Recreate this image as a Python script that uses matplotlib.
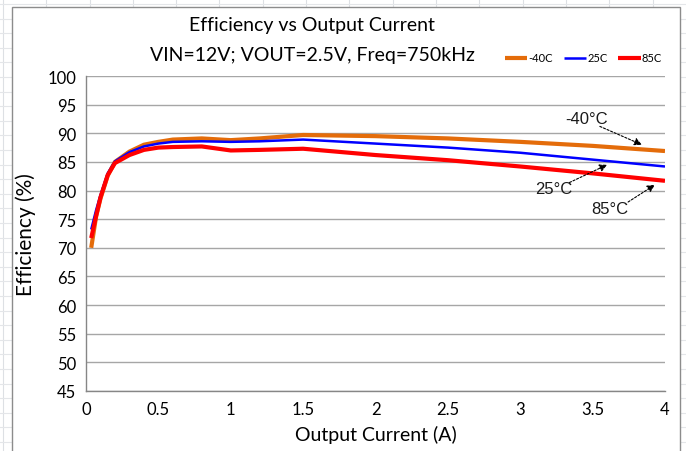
import numpy as np
import matplotlib
matplotlib.use("Agg")
from matplotlib import pyplot as plt
from matplotlib.patches import Rectangle
from matplotlib.lines import Line2D

# output current (A)
current = [0.036, 0.07, 0.1, 0.15, 0.2, 0.3, 0.4, 0.5, 0.6, 0.8, 1.0, 1.2, 1.5, 2.0, 2.5, 3.0, 3.5, 4.0]
# efficiency (%) per temperature
eff_m40 = [70.0, 75.5, 78.6, 82.6, 85.0, 86.8, 88.0, 88.5, 88.9, 89.1, 88.8, 89.1, 89.7, 89.5, 89.1, 88.5, 87.8, 86.9]
eff_25 = [73.2, 76.6, 79.2, 83.0, 85.1, 86.7, 87.7, 88.2, 88.5, 88.6, 88.5, 88.6, 88.9, 88.2, 87.5, 86.6, 85.4, 84.2]
eff_85 = [71.7, 75.6, 78.8, 82.7, 84.8, 86.2, 87.1, 87.5, 87.6, 87.7, 87.0, 87.1, 87.3, 86.2, 85.3, 84.2, 83.0, 81.7]

series_names = ["-40C", "25C", "85C"]
series_colors = ["#E46C0A", "#0000FF", "#FF0000"]
series_widths = [3.0, 1.8, 3.0]

annot_text = ["-40°C", "25°C", "85°C"]
annot_text_pos = [(3.46, 92.6), (3.23, 80.3), (3.62, 76.8)]
annot_tail = [(3.55, 91.2), (3.34, 81.4), (3.745, 78.0)]
annot_tip = [(3.84, 88.0), (3.60, 84.5), (3.93, 81.0)]

W, H = 686, 452
fig = plt.figure(figsize=(W / 100, H / 100), dpi=100)
fig.patch.set_facecolor("white")

# faint spreadsheet grid behind the chart object
for gx in np.arange(3, W, 43.3):
    fig.add_artist(Line2D([gx / W, gx / W], [0, 1], color="#dde0e4", lw=0.8, zorder=-3))
for gy in np.arange(5, H, 14.6):
    fig.add_artist(Line2D([0, 1], [1 - gy / H, 1 - gy / H], color="#e4e6e9", lw=0.8, zorder=-3))
fig.add_artist(Rectangle((12 / W, -0.05), (680 - 12) / W, (H - 8) / H + 0.05,
                         facecolor="white", edgecolor="#8c8c8c", lw=1.0, zorder=-2))

font = "Lato"
ax = fig.add_axes([86 / W, 1 - 392 / H, (665 - 86) / W, (392 - 77) / H])
ax.set_facecolor("none")

data = [eff_m40, eff_25, eff_85]
handles = []
for name, vals, c, lw in zip(series_names, data, series_colors, series_widths):
    h, = ax.plot(current, vals, color=c, lw=lw, label=name, solid_capstyle="butt")
    handles.append(h)

ax.set_xlim(0, 4)
ax.set_ylim(45, 100)
ax.set_xticks(np.arange(0, 4.01, 0.5))
ax.set_xticklabels(["0", "0.5", "1", "1.5", "2", "2.5", "3", "3.5", "4"])
ax.set_yticks(np.arange(45, 101, 5))
ax.grid(axis="y", color="#a6a6a6", lw=1.0)
ax.set_axisbelow(True)
for s in ["top", "right"]:
    ax.spines[s].set_visible(False)
for s in ["left", "bottom"]:
    ax.spines[s].set_color("#868686")
    ax.spines[s].set_linewidth(1.0)
ax.tick_params(length=0, labelsize=12, pad=7, colors="black")
for lab in ax.get_xticklabels() + ax.get_yticklabels():
    lab.set_fontfamily(font)

ax.set_xlabel("Output Current (A)", fontsize=14, family=font, labelpad=6)
ax.set_ylabel("Efficiency (%)", fontsize=15, family=font, labelpad=8)

fig.text(312 / W, 1 - 25 / H, "Efficiency vs Output Current", ha="center", va="center",
         fontsize=14, family=font)
fig.text(312 / W, 1 - 56 / H, "VIN=12V; VOUT=2.5V, Freq=750kHz", ha="center", va="center",
         fontsize=14, family=font)

leg = fig.legend(handles=handles, loc="center right", bbox_to_anchor=(672 / W, 1 - 59 / H),
                 ncol=3, frameon=False, handlelength=2.0, handletextpad=0.1,
                 columnspacing=1.0, prop={"family": font, "size": 8})

for t, pos in zip(annot_text, annot_text_pos):
    ax.text(pos[0], pos[1], t, ha="center", va="center", fontsize=12,
            family="Liberation Sans", color="#1a1a1a")
for tail, tip in zip(annot_tail, annot_tip):
    ax.annotate("", xy=tip, xytext=tail,
                arrowprops=dict(arrowstyle="-|>", color="black", lw=0.8, linestyle=(0, (2, 1.5)),
                                shrinkA=0, shrinkB=0, mutation_scale=11))

fig.savefig("out.png", dpi=100)
